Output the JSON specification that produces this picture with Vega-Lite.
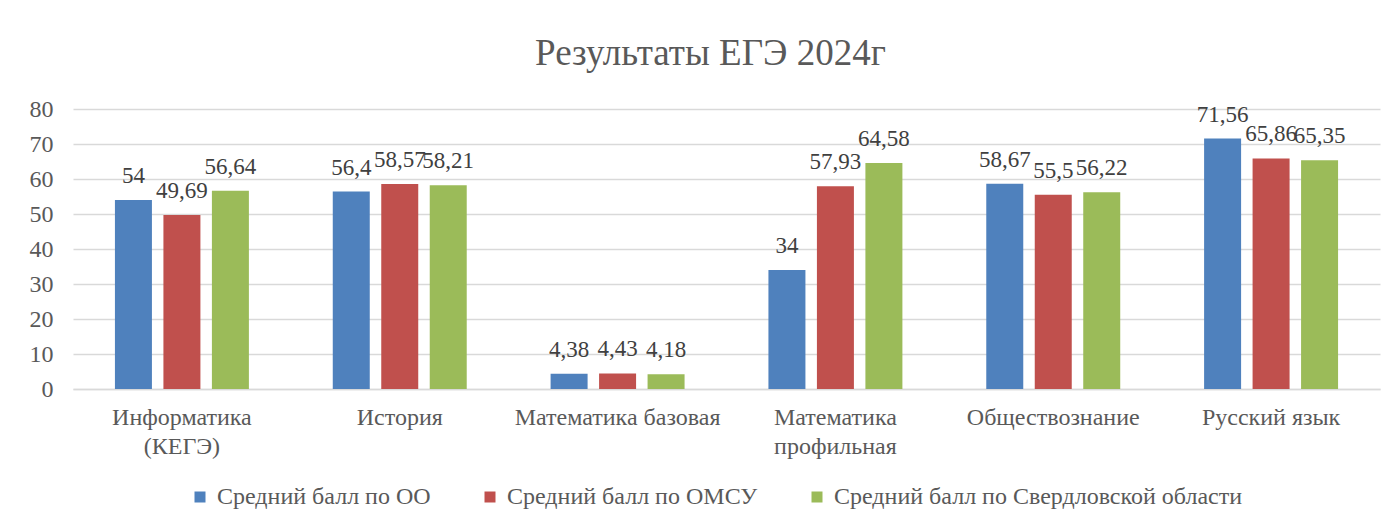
{
  "$schema": "https://vega.github.io/schema/vega-lite/v6.json",
  "width": 1307,
  "height": 280,
  "autosize": {"type": "none"},
  "padding": {"left": 73, "top": 109, "right": 20, "bottom": 138},
  "background": "white",
  "title": {
    "text": "Результаты ЕГЭ 2024г",
    "font": "Liberation Serif",
    "fontSize": 37,
    "fontWeight": "normal",
    "color": "#595959",
    "anchor": "middle",
    "baseline": "alphabetic",
    "dx": -16,
    "dy": 25,
    "offset": 20
  },
  "data": {
    "values": [
      {"subject": "Информатика (КЕГЭ)", "series": "Средний балл по ОО", "value": 54},
      {"subject": "Информатика (КЕГЭ)", "series": "Средний балл по ОМСУ", "value": 49.69},
      {"subject": "Информатика (КЕГЭ)", "series": "Средний балл по Свердловской области", "value": 56.64},
      {"subject": "История", "series": "Средний балл по ОО", "value": 56.4},
      {"subject": "История", "series": "Средний балл по ОМСУ", "value": 58.57},
      {"subject": "История", "series": "Средний балл по Свердловской области", "value": 58.21},
      {"subject": "Математика базовая", "series": "Средний балл по ОО", "value": 4.38},
      {"subject": "Математика базовая", "series": "Средний балл по ОМСУ", "value": 4.43},
      {"subject": "Математика базовая", "series": "Средний балл по Свердловской области", "value": 4.18},
      {"subject": "Математика профильная", "series": "Средний балл по ОО", "value": 34},
      {"subject": "Математика профильная", "series": "Средний балл по ОМСУ", "value": 57.93},
      {"subject": "Математика профильная", "series": "Средний балл по Свердловской области", "value": 64.58},
      {"subject": "Обществознание", "series": "Средний балл по ОО", "value": 58.67},
      {"subject": "Обществознание", "series": "Средний балл по ОМСУ", "value": 55.5},
      {"subject": "Обществознание", "series": "Средний балл по Свердловской области", "value": 56.22},
      {"subject": "Русский язык", "series": "Средний балл по ОО", "value": 71.56},
      {"subject": "Русский язык", "series": "Средний балл по ОМСУ", "value": 65.86},
      {"subject": "Русский язык", "series": "Средний балл по Свердловской области", "value": 65.35}
    ]
  },
  "encoding": {
    "x": {
      "field": "subject",
      "type": "nominal",
      "sort": null,
      "title": null,
      "scale": {"paddingInner": 0.385, "paddingOuter": 0.1925},
      "axis": {
        "labelAngle": 0,
        "labelFont": "Liberation Serif",
        "labelFontSize": 24,
        "labelColor": "#595959",
        "labelPadding": 16,
        "labelLineHeight": 29,
        "labelBaseline": "top",
        "labelLimit": 400,
        "ticks": false,
        "tickSize": 0,
        "domainColor": "#d9d9d9",
        "domainWidth": 1.5,
        "labelExpr": "indexof(['Информатика (КЕГЭ)','Математика профильная'], datum.label) >= 0 ? split(datum.label, ' ') : datum.label"
      }
    },
    "xOffset": {
      "field": "series",
      "type": "nominal",
      "sort": null,
      "scale": {"paddingInner": 0.237, "paddingOuter": 0}
    },
    "y": {
      "field": "value",
      "type": "quantitative",
      "title": null,
      "scale": {"domain": [0, 80]},
      "axis": {
        "values": [0, 10, 20, 30, 40, 50, 60, 70, 80],
        "labelFont": "Liberation Serif",
        "labelFontSize": 24,
        "labelColor": "#595959",
        "labelPadding": 20,
        "ticks": false,
        "tickSize": 0,
        "domain": false,
        "grid": true,
        "gridColor": "#d9d9d9",
        "gridWidth": 1.5
      }
    }
  },
  "layer": [
    {
      "mark": {"type": "bar", "strokeWidth": 1, "strokeOpacity": 0.35},
      "encoding": {
        "color": {
          "field": "series",
          "type": "nominal",
          "sort": null,
          "title": null,
          "scale": {
            "domain": ["Средний балл по ОО", "Средний балл по ОМСУ", "Средний балл по Свердловской области"],
            "range": ["#4F81BD", "#C0504D", "#9BBB59"]
          },
          "legend": {
            "orient": "none",
            "direction": "horizontal",
            "legendX": 115,
            "legendY": 376,
            "symbolType": "square",
            "symbolSize": 121,
            "symbolStrokeWidth": 0,
            "labelFont": "Liberation Serif",
            "labelFontSize": 24,
            "labelColor": "#595959",
            "labelOffset": 5,
            "columnPadding": 47,
            "labelLimit": 500
          }
        }
      }
    },
    {
      "mark": {
        "type": "text",
        "font": "Liberation Serif",
        "fontSize": 23,
        "color": "#404040",
        "baseline": "alphabetic",
        "dy": -17
      },
      "encoding": {
        "text": {"field": "value", "type": "quantitative", "format": ".4~g"}
      }
    }
  ],
  "config": {
    "locale": {
      "number": {"decimal": ",", "thousands": " ", "grouping": [3], "currency": ["", " ₽"]}
    },
    "view": {"stroke": null}
  }
}
